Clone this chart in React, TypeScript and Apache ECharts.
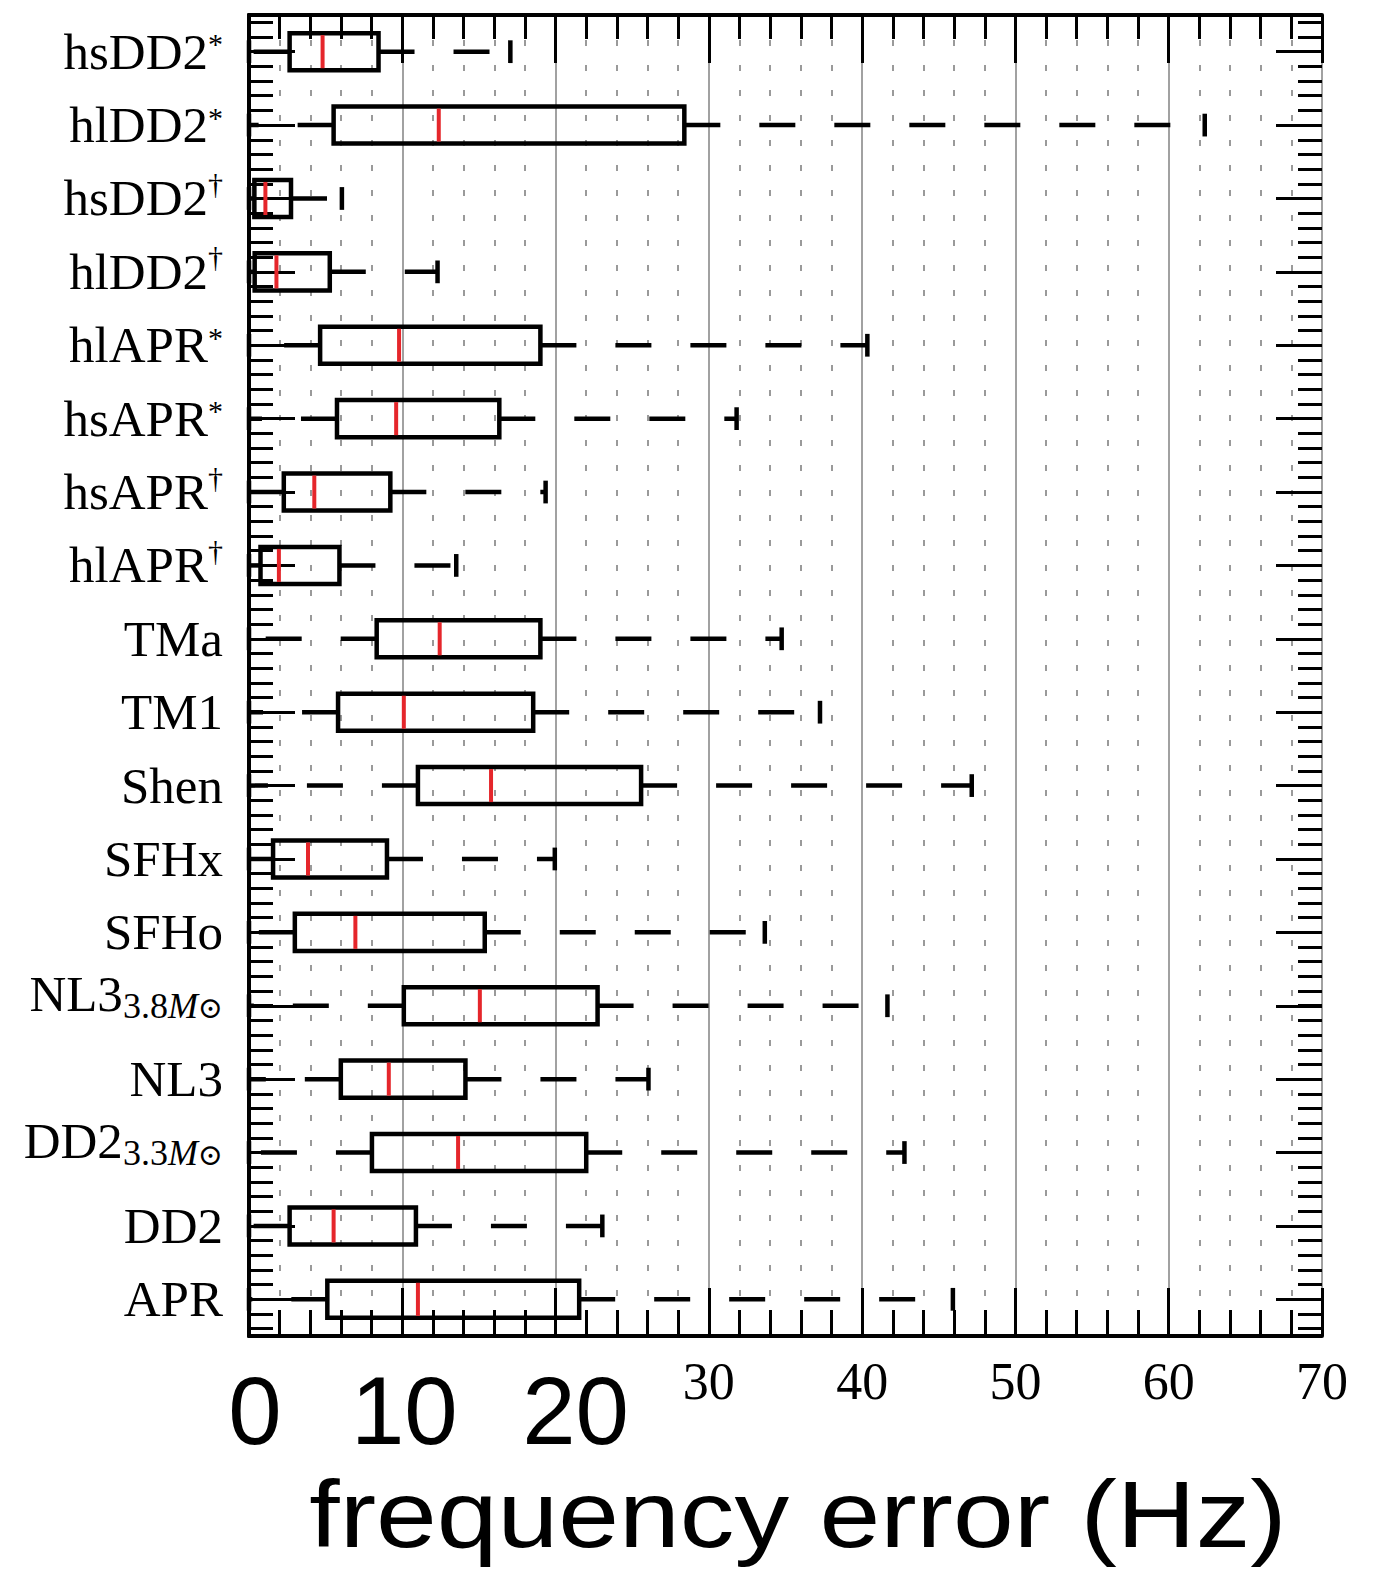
import React, { useEffect, useRef } from 'react';
import * as echarts from 'echarts';

// ---- data ----
const categories = [
  'hsDD2*', 'hlDD2*', 'hsDD2†', 'hlDD2†', 'hlAPR*', 'hsAPR*', 'hsAPR†', 'hlAPR†',
  'TMa', 'TM1', 'Shen', 'SFHx', 'SFHo', 'NL3_3.8M⊙', 'NL3', 'DD2_3.3M⊙', 'DD2', 'APR',
];
const whiskerLow = [0, 0, 0, 0, 0, 0, 0, 0, 0, 0, 0, 0, 0, 0, 0, 0, 0, 0];
const quartile1 = [2.65, 5.52, 0.35, 0.37, 4.64, 5.74, 2.27, 0.75, 8.33, 5.81, 11.02, 1.57, 2.99, 10.1, 5.99, 8.02, 2.65, 5.11];
const medians = [4.8, 12.38, 1.07, 1.79, 9.79, 9.6, 4.26, 1.95, 12.44, 10.1, 15.79, 3.85, 6.94, 15.06, 9.12, 13.64, 5.52, 11.02];
const quartile3 = [8.45, 28.4, 2.74, 5.27, 19.01, 16.33, 9.22, 5.9, 19.01, 18.54, 25.58, 9.0, 15.38, 22.74, 14.12, 22.0, 10.89, 21.54];
const whiskerHigh = [17.05, 62.35, 6.06, 12.3, 40.34, 31.81, 19.35, 13.52, 34.75, 37.25, 47.15, 19.95, 33.65, 41.65, 26.06, 42.76, 23.05, 45.92];
const xMin = 0;
const xMax = 70;
const xStep = 10;
const bigTickLabels = [0, 10, 20];
const axisTitle = 'frequency error (Hz)';

const SERIF = '"Liberation Serif", "DejaVu Serif", serif';
const SANS = '"Liberation Sans", Arial, sans-serif';

function yLabel(name: string): string {
  const sub = name.match(/^(.*)_([\d.]+)M⊙$/);
  if (sub) return `{mr|${sub[1]}}{sub|${sub[2]}}{subi|M}{subo|⊙}`;
  const last = name.slice(-1);
  if (last === '*') return `{m|${name.slice(0, -1)}}{sup|*}`;
  if (last === '†') return `{m|${name.slice(0, -1)}}{dag|†}`;
  return `{m|${name}}`;
}

function xLabel(v: number): string {
  if (bigTickLabels.indexOf(v) >= 0) return `{b${v}|${v}}`;
  return `{s|${v}}`;
}

const minorSlots = Array.from({ length: categories.length * 5 }, (_, i) => String(i));

export default function App() {
  const ref = useRef<HTMLDivElement>(null);
  useEffect(() => {
    document.body.style.margin = '0';
    document.body.style.overflow = 'hidden';
    if (!ref.current) return;
    const chart = echarts.init(ref.current, null, { renderer: 'svg' });

    const data = categories.map((_, i) => [i, whiskerLow[i], quartile1[i], medians[i], quartile3[i], whiskerHigh[i]]);

    const frameLine = { show: true, lineStyle: { color: '#000', width: 4 } };
    const tickStyle = { color: '#000', width: 3 };

    const tickAxis = (cats: string[], position: string, length: number) => ({
      type: 'category', data: cats, inverse: true, position,
      axisLine: { show: false },
      axisTick: { show: true, alignWithLabel: true, inside: true, length, interval: 0, lineStyle: tickStyle },
      splitLine: { show: false },
      axisLabel: { show: false },
    });

    const option: any = {
      animation: false,
      grid: { left: 249, right: 53, top: 15, bottom: 233 },
      xAxis: [
        {
          type: 'value', min: xMin, max: xMax, interval: xStep, position: 'bottom',
          axisLine: frameLine,
          axisTick: { show: true, inside: true, length: 48, lineStyle: tickStyle },
          minorTick: { show: true, splitNumber: 5, length: 26, lineStyle: tickStyle },
          splitLine: { show: true, lineStyle: { color: '#8a8a8a', width: 1.6 } },
          minorSplitLine: { show: true, lineStyle: { color: '#9a9a9a', width: 2, type: [6, 19] } },
          axisLabel: {
            show: true, margin: 19, color: '#000',
            formatter: xLabel,
            rich: {
              s: { fontFamily: SERIF, fontSize: 52, lineHeight: 52, color: '#000' },
              b0: { fontFamily: SANS, fontSize: 96, lineHeight: 110, color: '#000', padding: [0, 0, 0, 12] },
              b10: { fontFamily: SANS, fontSize: 96, lineHeight: 110, color: '#000', padding: [0, 0, 0, 4] },
              b20: { fontFamily: SANS, fontSize: 96, lineHeight: 110, color: '#000', padding: [0, 0, 0, 40] },
            },
          },
        },
        {
          type: 'value', min: xMin, max: xMax, interval: xStep, position: 'top',
          axisLine: frameLine,
          axisTick: { show: true, inside: true, length: 48, lineStyle: tickStyle },
          minorTick: { show: true, splitNumber: 5, length: 24, lineStyle: tickStyle },
          splitLine: { show: false },
          axisLabel: { show: false },
        },
      ],
      yAxis: [
        {
          type: 'category', data: categories, inverse: true, position: 'left',
          axisLine: frameLine,
          axisTick: { show: false },
          splitLine: { show: false },
          axisLabel: {
            show: true, interval: 0, margin: 26, color: '#000',
            formatter: yLabel,
            rich: {
              m: { fontFamily: SERIF, fontSize: 51, lineHeight: 60, color: '#000' },
              mr: { fontFamily: SERIF, fontSize: 51, lineHeight: 60, color: '#000', padding: [0, 0, 24, 0] },
              sup: { fontFamily: SERIF, fontSize: 30, lineHeight: 60, color: '#000', padding: [0, 0, 16, 0] },
              dag: { fontFamily: SERIF, fontSize: 30, lineHeight: 60, color: '#000', padding: [0, 0, 30, 0] },
              sub: { fontFamily: SERIF, fontSize: 36, lineHeight: 60, color: '#000' },
              subi: { fontFamily: SERIF, fontSize: 36, lineHeight: 60, fontStyle: 'italic', color: '#000' },
              subo: { fontFamily: '"DejaVu Serif", serif', fontSize: 30, lineHeight: 60, color: '#000', padding: [4, 0, 0, 0] },
            },
          },
        },
        {
          type: 'category', data: categories, inverse: true, position: 'right',
          axisLine: frameLine,
          axisTick: { show: false },
          splitLine: { show: false },
          axisLabel: { show: false },
        },
        tickAxis(categories, 'left', 46),
        tickAxis(categories, 'right', 46),
        tickAxis(minorSlots, 'left', 24),
        tickAxis(minorSlots, 'right', 24),
      ],
      series: [
        {
          type: 'custom',
          xAxisIndex: 0,
          yAxisIndex: 0,
          z: 5,
          clip: false,
          encode: { x: [1, 2, 3, 4, 5], y: 0 },
          data,
          renderItem: (params: any, api: any) => {
            const cat = api.value(0);
            const lo = api.coord([api.value(1), cat]);
            const q1 = api.coord([api.value(2), cat]);
            const md = api.coord([api.value(3), cat]);
            const q3 = api.coord([api.value(4), cat]);
            const hi = api.coord([api.value(5), cat]);
            const band = api.size([0, 1])[1];
            const cy = q1[1];
            const boxH = band * 0.505;
            const capH = band * 0.31;
            const black = { stroke: '#000', lineWidth: 4.5 };
            return {
              type: 'group',
              children: [
                { type: 'line', shape: { x1: q1[0], y1: cy, x2: lo[0], y2: cy }, style: { ...black, fill: null, lineDash: [36, 39] } },
                { type: 'line', shape: { x1: q3[0], y1: cy, x2: hi[0], y2: cy }, style: { ...black, fill: null, lineDash: [36, 39] } },
                { type: 'line', shape: { x1: lo[0], y1: cy - capH / 2, x2: lo[0], y2: cy + capH / 2 }, style: { ...black } },
                { type: 'line', shape: { x1: hi[0], y1: cy - capH / 2, x2: hi[0], y2: cy + capH / 2 }, style: { ...black } },
                { type: 'rect', shape: { x: q1[0], y: cy - boxH / 2, width: q3[0] - q1[0], height: boxH }, style: { fill: 'none', stroke: '#000', lineWidth: 4.5 } },
                { type: 'line', shape: { x1: md[0], y1: cy - boxH / 2 + 2, x2: md[0], y2: cy + boxH / 2 - 2 }, style: { stroke: '#e5262b', lineWidth: 4 } },
              ],
            };
          },
        },
      ],
      graphic: [
        {
          type: 'text',
          x: 798,
          y: 1514,
          scaleX: 1.15,
          style: {
            text: axisTitle,
            fontFamily: SANS,
            fontSize: 95,
            fill: '#000',
            align: 'center',
            verticalAlign: 'middle',
          },
        },
      ],
    };

    chart.setOption(option);
    return () => chart.dispose();
  }, []);

  return <div ref={ref} style={{ position: 'absolute', left: 0, top: 0, width: 1375, height: 1569 }} />;
}
